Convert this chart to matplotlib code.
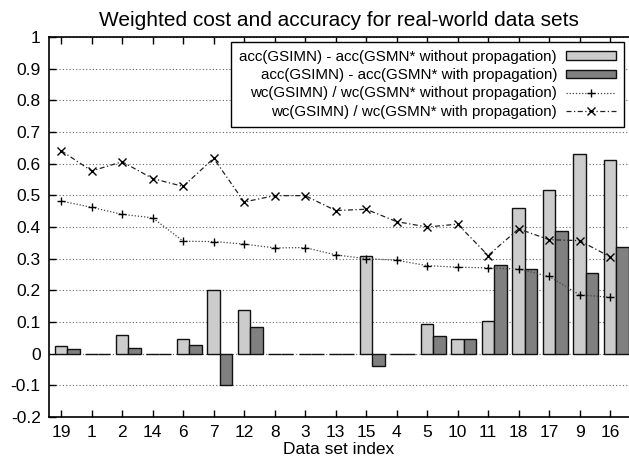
import matplotlib
matplotlib.use("Agg")
import matplotlib.pyplot as plt
import numpy as np

plt.rcParams['font.family'] = ['Liberation Sans', 'DejaVu Sans']

datasets = ["19", "1", "2", "14", "6", "7", "12", "8", "3", "13", "15", "4", "5", "10", "11", "18", "17", "9", "16"]
acc_without = [0.024, 0.0, 0.058, 0.0, 0.047, 0.200, 0.139, 0.0, 0.0, 0.0, 0.310, 0.0, 0.095, 0.047, 0.103, 0.460, 0.518, 0.630, 0.613]
acc_with = [0.015, 0.0, 0.017, 0.0, 0.026, -0.100, 0.084, 0.0, 0.0, 0.0, -0.039, 0.0, 0.056, 0.047, 0.281, 0.267, 0.387, 0.255, 0.337]
wc_without = [0.482, 0.462, 0.440, 0.429, 0.355, 0.354, 0.346, 0.334, 0.335, 0.312, 0.300, 0.295, 0.278, 0.273, 0.271, 0.267, 0.244, 0.186, 0.178]
wc_with = [0.641, 0.577, 0.606, 0.553, 0.528, 0.617, 0.479, 0.499, 0.499, 0.452, 0.456, 0.417, 0.400, 0.409, 0.310, 0.394, 0.360, 0.357, 0.306]

labels = ["acc(GSIMN) - acc(GSMN* without propagation)",
          "acc(GSIMN) - acc(GSMN* with propagation)",
          "wc(GSIMN) / wc(GSMN* without propagation)",
          "wc(GSIMN) / wc(GSMN* with propagation)"]

fig = plt.figure(figsize=(6.29, 4.66), dpi=100)
ax = fig.add_axes([49/629, 49/466, 1 - 49/629, (417-37)/466])

x = np.arange(len(datasets))
w = 0.41
b1 = ax.bar(x, acc_without, width=w, color='#cccccc', edgecolor='#111111', linewidth=1.0, label=labels[0], zorder=2)
b2 = ax.bar(x + w, acc_with, width=w, color='#808080', edgecolor='#111111', linewidth=1.0, label=labels[1], zorder=2)
l1, = ax.plot(x, wc_without, linestyle=(0, (1, 1.5)), color='#444444', linewidth=0.9,
              marker='+', markersize=6, markeredgecolor='black', markeredgewidth=1.0, label=labels[2], zorder=3)
l2, = ax.plot(x, wc_with, linestyle=(0, (4, 2, 1, 2)), color='#222222', linewidth=0.9,
              marker='x', markersize=5.5, markeredgecolor='black', markeredgewidth=1.0, label=labels[3], zorder=3)

ax.set_ylim(-0.2, 1.0)
ax.set_xlim(-0.4, 18.62)
ax.set_yticks(np.arange(-0.2, 1.001, 0.1))
ax.set_yticklabels(['-0.2', '-0.1', '0', '0.1', '0.2', '0.3', '0.4', '0.5', '0.6', '0.7', '0.8', '0.9', '1'])
ax.set_xticks(x)
ax.set_xticklabels(datasets)
ax.tick_params(axis='both', direction='in', labelsize=12.5, length=5, width=1, pad=6)
ax.tick_params(axis='x', top=True)
ax.yaxis.grid(True, linestyle=(0, (1, 2)), color='#666666', linewidth=0.8, zorder=0)
ax.set_axisbelow(True)
ax.spines['right'].set_visible(False)
for s in ['left', 'bottom', 'top']:
    ax.spines[s].set_linewidth(1.2)

ax.set_xlabel("Data set index", fontsize=12.5, labelpad=1)
ax.set_title("Weighted cost and accuracy for real-world data sets", fontsize=15, pad=8)

leg = ax.legend(handles=[b1, b2, l1, l2], loc='upper right',
                markerfirst=False, fontsize=10.9, frameon=True, fancybox=False, edgecolor='black',
                framealpha=1, handlelength=3.3, handleheight=0.45, labelspacing=0.28,
                borderpad=0.55, handletextpad=0.6, borderaxespad=0.3)
leg.get_frame().set_linewidth(1.0)

fig.savefig("out.png", dpi=100)
